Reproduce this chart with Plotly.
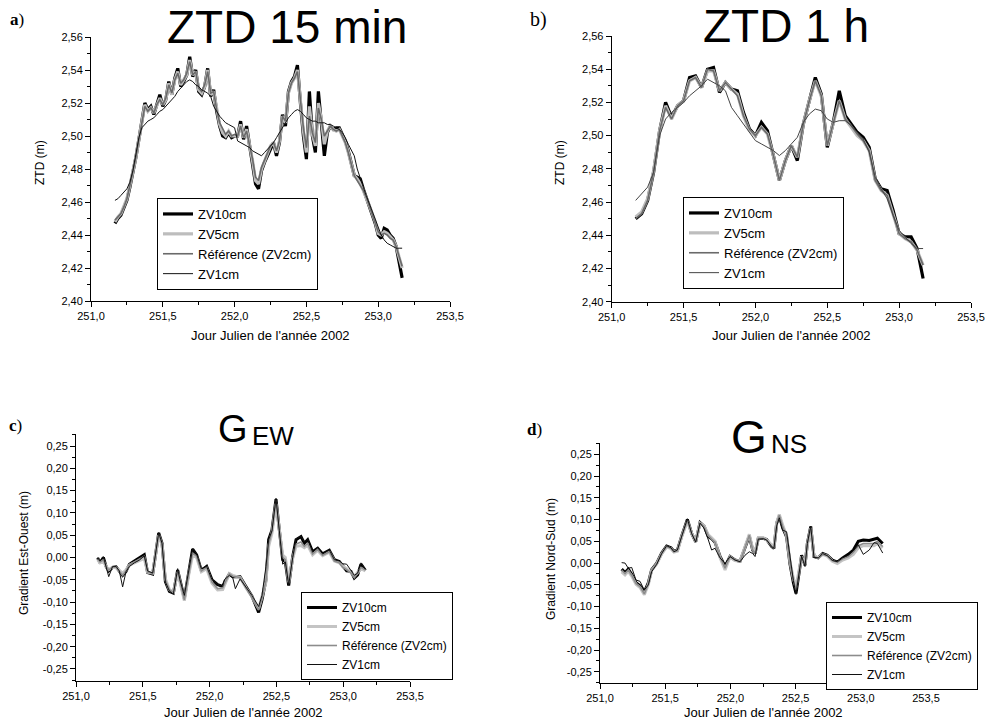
import plotly.graph_objects as go

W, H = 986, 722

# ---------------- DATA ----------------
# Panel a : ZTD 15 min (sampled every 30 min)
days_a = [round(251.1667 + k / 48, 4) for k in range(97)]
zv10_a = [2.447,2.450,2.452,2.457,2.461,2.469,2.477,2.487,2.498,2.509,2.520,2.516,2.518,2.513,2.519,2.525,2.518,2.522,2.533,2.525,
          2.535,2.541,2.530,2.533,2.537,2.548,2.536,2.540,2.527,2.525,2.530,2.541,2.524,2.528,2.515,2.506,2.500,2.499,2.502,2.499,
          2.500,2.500,2.509,2.498,2.506,2.494,2.484,2.471,2.468,2.479,2.484,2.488,2.493,2.496,2.488,2.496,2.513,2.506,2.527,2.533,
          2.536,2.543,2.520,2.500,2.486,2.527,2.500,2.490,2.527,2.509,2.488,2.502,2.506,2.504,2.505,2.505,2.501,2.497,2.491,2.484,
          2.476,2.475,2.474,2.468,2.463,2.458,2.452,2.447,2.440,2.438,2.444,2.443,2.440,2.438,2.433,2.424,2.414]
zv5_a = [2.448,2.451,2.453,2.457,2.462,2.470,2.478,2.487,2.498,2.508,2.519,2.515,2.517,2.514,2.519,2.523,2.519,2.522,2.532,2.525,
         2.534,2.539,2.531,2.534,2.537,2.546,2.537,2.539,2.528,2.526,2.530,2.540,2.525,2.527,2.516,2.507,2.502,2.500,2.503,2.500,
         2.500,2.500,2.507,2.499,2.504,2.495,2.485,2.473,2.471,2.480,2.485,2.489,2.494,2.496,2.490,2.497,2.512,2.508,2.526,2.532,
         2.535,2.540,2.521,2.503,2.490,2.518,2.501,2.494,2.520,2.510,2.495,2.503,2.506,2.504,2.503,2.504,2.500,2.496,2.490,2.483,
         2.476,2.474,2.471,2.467,2.463,2.458,2.453,2.448,2.441,2.440,2.442,2.441,2.439,2.437,2.433,2.426,2.420]
ref_a = [2.449,2.451,2.453,2.457,2.462,2.470,2.478,2.487,2.498,2.508,2.518,2.515,2.517,2.514,2.519,2.522,2.519,2.523,2.531,2.526,
         2.534,2.538,2.532,2.534,2.538,2.545,2.537,2.539,2.529,2.527,2.531,2.539,2.526,2.527,2.516,2.508,2.504,2.501,2.503,2.500,
         2.501,2.500,2.506,2.499,2.503,2.495,2.486,2.475,2.473,2.481,2.485,2.490,2.494,2.496,2.491,2.497,2.512,2.509,2.526,2.532,
         2.535,2.539,2.522,2.505,2.493,2.512,2.502,2.496,2.517,2.510,2.500,2.503,2.506,2.504,2.503,2.504,2.500,2.496,2.490,2.483,
         2.476,2.473,2.470,2.467,2.463,2.458,2.453,2.448,2.442,2.440,2.441,2.440,2.438,2.437,2.433,2.427,2.421]
zv1_a = [2.461,2.462,2.464,2.466,2.468,2.472,2.479,2.489,2.499,2.505,2.507,2.509,2.510,2.511,2.513,2.515,2.516,2.518,2.520,2.522,
         2.524,2.527,2.529,2.531,2.533,2.534,2.533,2.531,2.530,2.528,2.527,2.526,2.524,2.518,2.515,2.512,2.510,2.508,2.507,2.506,
         2.505,2.497,2.496,2.495,2.494,2.493,2.491,2.490,2.489,2.488,2.490,2.492,2.494,2.496,2.499,2.502,2.505,2.508,2.511,2.513,
         2.515,2.516,2.515,2.513,2.511,2.510,2.509,2.509,2.508,2.508,2.508,2.507,2.507,2.506,2.505,2.504,2.502,2.499,2.495,2.491,
         2.488,2.480,2.474,2.469,2.464,2.459,2.454,2.449,2.444,2.440,2.437,2.435,2.434,2.433,2.432,2.432,2.432]

# Panel b : ZTD 1 h
days_b = [round(251.1667 + k / 24, 4) for k in range(49)]
zv10_b = [2.450,2.453,2.461,2.478,2.503,2.520,2.511,2.518,2.521,2.535,2.536,2.529,2.540,2.541,2.526,2.532,2.528,2.527,2.514,2.504,
          2.500,2.508,2.503,2.488,2.473,2.485,2.494,2.485,2.507,2.521,2.535,2.525,2.493,2.508,2.527,2.512,2.507,2.502,2.499,2.493,
          2.474,2.468,2.467,2.455,2.441,2.439,2.439,2.432,2.414]
zv5_b = [2.451,2.454,2.462,2.479,2.503,2.518,2.510,2.518,2.521,2.533,2.535,2.529,2.539,2.539,2.527,2.532,2.528,2.525,2.512,2.503,
         2.500,2.505,2.501,2.488,2.473,2.485,2.494,2.487,2.507,2.521,2.533,2.524,2.494,2.507,2.521,2.510,2.505,2.500,2.497,2.491,
         2.473,2.467,2.464,2.452,2.441,2.438,2.436,2.431,2.422]
ref_b = [2.450,2.453,2.461,2.478,2.503,2.517,2.510,2.518,2.521,2.533,2.535,2.529,2.540,2.539,2.527,2.532,2.528,2.524,2.512,2.504,
         2.500,2.505,2.501,2.488,2.473,2.485,2.494,2.487,2.507,2.521,2.533,2.524,2.494,2.507,2.521,2.510,2.506,2.501,2.497,2.491,
         2.473,2.467,2.464,2.452,2.441,2.438,2.436,2.431,2.422]
zv1_b = [2.461,2.465,2.469,2.478,2.500,2.510,2.514,2.517,2.520,2.524,2.527,2.530,2.534,2.532,2.530,2.527,2.517,2.512,2.507,2.502,
         2.497,2.495,2.493,2.491,2.488,2.491,2.495,2.499,2.508,2.513,2.516,2.515,2.510,2.508,2.509,2.509,2.506,2.502,2.498,2.490,
         2.475,2.468,2.462,2.452,2.443,2.439,2.435,2.432,2.432]

# Panel c : gradient Est-Ouest
days_c = [251.162,251.180,251.205,251.225,251.245,251.274,251.300,251.324,251.349,251.374,251.400,251.437,251.474,251.511,
          251.536,251.574,251.619,251.644,251.669,251.699,251.729,251.761,251.778,251.811,251.843,251.873,251.903,251.938,
          251.978,252.018,252.060,252.098,252.110,252.148,252.173,252.193,252.228,252.272,252.317,252.367,252.392,252.422,
          252.442,252.467,252.497,252.522,252.547,252.567,252.592,252.622,252.647,252.684,252.709,252.734,252.771,252.809,
          252.846,252.896,252.934,252.971,252.996,253.026,253.058,253.083,253.108,253.133,253.166]
zv10_c = [-0.001,-0.012,0.000,-0.020,-0.030,-0.022,-0.021,-0.031,-0.040,-0.031,-0.015,-0.008,-0.001,0.006,-0.034,-0.037,0.055,
          0.032,-0.054,-0.076,-0.080,-0.028,-0.050,-0.092,-0.035,0.019,0.006,-0.029,-0.020,-0.050,-0.061,-0.065,-0.057,-0.037,
          -0.043,-0.043,-0.043,-0.065,-0.087,-0.123,-0.095,-0.050,0.040,0.062,0.131,0.062,-0.005,-0.010,-0.063,0.002,0.040,
          0.047,0.032,0.040,0.013,0.021,0.008,0.016,-0.005,-0.009,-0.019,-0.030,-0.031,-0.046,-0.039,-0.015,-0.029]
zv5_c = [-0.005,-0.012,-0.008,-0.020,-0.027,-0.022,-0.023,-0.030,-0.035,-0.028,-0.017,-0.012,-0.007,-0.002,-0.033,-0.035,0.050,
         0.028,-0.048,-0.072,-0.078,-0.033,-0.055,-0.097,-0.040,0.005,0.000,-0.032,-0.025,-0.058,-0.073,-0.072,-0.063,-0.036,
         -0.040,-0.042,-0.045,-0.068,-0.088,-0.115,-0.090,-0.055,0.025,0.055,0.120,0.058,0.005,0.000,-0.055,-0.002,0.025,
         0.027,0.022,0.028,0.006,0.016,0.004,0.012,-0.008,-0.012,-0.020,-0.025,-0.033,-0.042,-0.034,-0.025,-0.030]
ref_c = [-0.003,-0.010,-0.005,-0.020,-0.028,-0.022,-0.022,-0.030,-0.040,-0.030,-0.016,-0.010,-0.004,0.003,-0.033,-0.036,0.052,
         0.030,-0.050,-0.073,-0.078,-0.030,-0.052,-0.095,-0.038,0.010,0.003,-0.030,-0.022,-0.055,-0.070,-0.068,-0.060,-0.037,
         -0.042,-0.043,-0.045,-0.068,-0.090,-0.118,-0.092,-0.052,0.030,0.060,0.128,0.060,0.000,-0.005,-0.058,0.000,0.030,
         0.035,0.025,0.032,0.008,0.018,0.005,0.013,-0.008,-0.012,-0.022,-0.027,-0.035,-0.045,-0.035,-0.022,-0.028]
zv1_c = [0.000,-0.008,0.002,-0.022,-0.043,-0.020,-0.020,-0.030,-0.066,-0.032,-0.020,-0.012,-0.006,0.004,-0.030,-0.035,0.056,
         0.032,-0.055,-0.075,-0.082,-0.025,-0.050,-0.085,-0.030,0.020,0.008,-0.025,-0.020,-0.050,-0.060,-0.065,-0.050,-0.040,
         -0.045,-0.070,-0.048,-0.066,-0.085,-0.110,-0.085,-0.020,0.040,0.060,0.133,0.060,-0.015,-0.010,-0.062,0.000,0.042,
         0.048,0.035,0.042,0.012,0.022,0.008,0.017,-0.005,-0.008,-0.014,-0.015,-0.030,-0.040,-0.035,-0.012,-0.027]

# Panel d : gradient Nord-Sud
days_d = [251.166,251.192,251.217,251.243,251.276,251.307,251.340,251.371,251.396,251.435,251.473,251.511,251.544,251.567,
          251.593,251.626,251.670,251.703,251.734,251.767,251.798,251.831,251.856,251.882,251.920,251.959,251.997,252.035,
          252.074,252.112,252.145,252.171,252.189,252.214,252.253,252.278,252.316,252.334,252.355,252.375,252.400,252.431,
          252.457,252.483,252.503,252.529,252.546,252.572,252.590,252.616,252.641,252.674,252.708,252.743,252.782,252.820,
          252.861,252.904,252.943,252.981,253.019,253.065,253.101,253.127,253.168]
zv10_d = [-0.014,-0.022,-0.014,-0.026,-0.045,-0.052,-0.066,-0.045,-0.015,0.000,0.023,0.039,0.035,0.027,0.029,0.062,0.100,
          0.068,0.049,0.093,0.085,0.061,0.056,0.048,0.016,-0.008,0.015,0.007,0.004,0.033,0.062,0.030,0.022,0.057,0.057,0.054,
          0.038,0.034,0.092,0.108,0.082,0.060,-0.002,-0.045,-0.070,-0.018,0.018,-0.005,0.045,0.084,0.015,0.012,0.022,0.018,
          0.007,0.002,0.012,0.020,0.030,0.050,0.053,0.052,0.055,0.057,0.045]
zv5_d = [-0.020,-0.027,-0.019,-0.030,-0.049,-0.056,-0.073,-0.049,-0.017,-0.002,0.021,0.037,0.033,0.025,0.027,0.060,0.096,
         0.068,0.050,0.092,0.086,0.065,0.058,0.050,0.013,-0.016,0.014,0.006,0.004,0.036,0.066,0.032,0.024,0.058,0.058,0.053,
         0.040,0.036,0.093,0.112,0.088,0.063,0.003,-0.035,-0.055,-0.014,0.015,-0.003,0.042,0.080,0.017,0.012,0.020,0.016,
         0.004,-0.001,0.007,0.012,0.020,0.035,0.040,0.040,0.040,0.045,0.035]
ref_d = [-0.016,-0.024,-0.016,-0.028,-0.047,-0.054,-0.071,-0.047,-0.016,-0.001,0.022,0.038,0.034,0.026,0.028,0.061,0.098,
         0.068,0.049,0.092,0.084,0.063,0.055,0.048,0.015,-0.012,0.015,0.007,0.003,0.034,0.064,0.030,0.022,0.057,0.057,0.053,
         0.038,0.034,0.091,0.110,0.085,0.061,-0.001,-0.040,-0.062,-0.016,0.016,-0.005,0.043,0.082,0.015,0.011,0.020,0.017,
         0.006,0.002,0.010,0.015,0.025,0.040,0.045,0.045,0.045,0.050,0.038]
zv1_d = [0.001,0.000,-0.012,-0.010,-0.039,-0.042,-0.062,-0.050,-0.020,-0.003,0.022,0.040,0.035,0.026,0.030,0.063,0.102,
         0.068,0.048,0.092,0.080,0.053,0.030,0.034,0.012,-0.001,0.015,0.007,0.003,0.018,0.026,0.022,0.015,0.055,0.056,0.053,
         0.038,0.034,0.085,0.104,0.076,0.072,0.010,-0.040,-0.072,-0.020,0.016,-0.008,0.045,0.085,0.013,0.012,0.022,0.017,
         0.006,0.003,0.012,0.018,0.028,0.042,0.020,0.030,0.047,0.045,0.023]

series_names = ["ZV10cm", "ZV5cm", "Référence (ZV2cm)", "ZV1cm"]

x_tickvals = [251.0, 251.5, 252.0, 252.5, 253.0, 253.5]
x_ticktext = ["251,0", "251,5", "252,0", "252,5", "253,0", "253,5"]
ztd_tickvals = [2.40, 2.42, 2.44, 2.46, 2.48, 2.50, 2.52, 2.54, 2.56]
ztd_ticktext = ["2,40", "2,42", "2,44", "2,46", "2,48", "2,50", "2,52", "2,54", "2,56"]
grad_tickvals = [-0.25, -0.20, -0.15, -0.10, -0.05, 0.0, 0.05, 0.10, 0.15, 0.20, 0.25]
grad_ticktext = ["-0,25", "-0,20", "-0,15", "-0,10", "-0,05", "0,00", "0,05", "0,10", "0,15", "0,20", "0,25"]

# ---------------- LAYOUT HELPERS ----------------
FONT = "Liberation Sans, Arial, sans-serif"
SERIF = "Liberation Serif, Times New Roman, serif"


def px(x):
    return x / W


def py(y):
    return 1 - y / H


fig = go.Figure()

styles_ab = [dict(color="#000000", width=3.2), dict(color="#bdbdbd", width=3.2),
             dict(color="#6a6a6a", width=1.6), dict(color="#111111", width=1.0)]
styles_b = [dict(color="#000000", width=3.2), dict(color="#bdbdbd", width=3.2),
            dict(color="#6a6a6a", width=1.6), dict(color="#444444", width=1.0)]
styles_cd = [dict(color="#000000", width=3.0), dict(color="#c4c4c4", width=3.0),
             dict(color="#8c8c8c", width=1.6), dict(color="#111111", width=1.0)]

panels = [
    ("x", "y", "legend", days_a, [zv10_a, zv5_a, ref_a, zv1_a], styles_ab),
    ("x2", "y2", "legend2", days_b, [zv10_b, zv5_b, ref_b, zv1_b], styles_b),
    ("x3", "y3", "legend3", days_c, [zv10_c, zv5_c, ref_c, zv1_c], styles_cd),
    ("x4", "y4", "legend4", days_d, [zv10_d, zv5_d, ref_d, zv1_d], styles_cd),
]
for xa, ya, lg, days, sers, sty in panels:
    for name, vals, st in zip(series_names, sers, sty):
        fig.add_trace(go.Scatter(x=days, y=vals, mode="lines", name=name, line=st,
                                 xaxis=xa, yaxis=ya, legend=lg, hoverinfo="skip"))

axis_common = dict(showline=True, linecolor="black", linewidth=1, ticks="outside", ticklen=5,
                   tickcolor="black", tickwidth=1, showgrid=False, zeroline=False, automargin=False,
                   tickfont=dict(family=FONT, size=11, color="black"), tickmode="array")


def xaxis(x0, x1, anchor):
    return dict(axis_common, domain=[px(x0), px(x1)], range=[251.0, 253.5], anchor=anchor,
                tickvals=x_tickvals, ticktext=x_ticktext,
                minor=dict(ticks="outside", ticklen=3, tickcolor="black", dtick=0.25, tick0=251.0))


def yaxis_ztd(y0, y1, anchor):
    return dict(axis_common, domain=[py(y1), py(y0)], range=[2.40, 2.56], anchor=anchor,
                tickvals=ztd_tickvals, ticktext=ztd_ticktext,
                minor=dict(ticks="outside", ticklen=3, tickcolor="black", dtick=0.01, tick0=2.40))


def yaxis_grad(y0, y1, lo, hi, anchor):
    return dict(axis_common, domain=[py(y1), py(y0)], range=[lo, hi], anchor=anchor,
                tickvals=grad_tickvals, ticktext=grad_ticktext,
                minor=dict(ticks="outside", ticklen=3, tickcolor="black", dtick=0.025, tick0=0.0))


def legend(x, y, size, ew):
    return dict(bgcolor="white", bordercolor="black", borderwidth=1,
                font=dict(family=FONT, size=size, color="black"),
                xanchor="left", yanchor="top", tracegroupgap=0, itemwidth=30,
                entrywidth=ew, entrywidthmode="pixels",
                traceorder="normal", xref="container", yref="container",
                x=px(x), y=py(y))


fig.update_layout(
    template="none",
    width=W, height=H, margin=dict(l=0, r=0, t=0, b=0, autoexpand=False),
    paper_bgcolor="white", plot_bgcolor="white", showlegend=True,
    font=dict(family=FONT, color="black"),
    xaxis=xaxis(91, 450, "y"), yaxis=yaxis_ztd(37, 301, "x"),
    xaxis2=xaxis(611.7, 971, "y2"), yaxis2=yaxis_ztd(36, 301.7, "x2"),
    xaxis3=xaxis(76, 410, "y3"), yaxis3=yaxis_grad(434, 681, -0.277, 0.277, "x3"),
    xaxis4=xaxis(600, 926, "y4"), yaxis4=yaxis_grad(443, 682.7, -0.275, 0.276, "x4"),
    legend=legend(157, 198, 13, 130),
    legend2=legend(683, 197, 13, 130),
    legend3=legend(301, 592, 12, 118),
    legend4=legend(826, 602, 12, 118),
)


def ann(text, x, y, size, family=FONT, angle=0):
    fig.add_annotation(text=text, x=px(x), y=py(y), xref="paper", yref="paper",
                       xanchor="center", yanchor="middle", showarrow=False, textangle=angle,
                       font=dict(family=family, size=size, color="black"))


# titles
ann("ZTD 15 min", 286.5, 26.5, 46)
ann("ZTD 1 h", 786, 26, 46)
ann("G", 232.5, 428.5, 38)
ann("EW", 273, 436, 26)
ann("G", 749, 437.4, 46)
ann("NS", 789, 444, 26)

# panel letters
ann("<b>a</b>)", 17, 20, 17, SERIF)
ann("b)", 538, 20, 20, SERIF)
ann("<b>c</b>)", 15, 425, 17, SERIF)
ann("<b>d</b>)", 534.5, 429, 17, SERIF)

# axis titles
ann("ZTD (m)", 40, 163, 12, angle=-90)
ann("ZTD (m)", 560, 163, 12, angle=-90)
ann("Gradient Est-Ouest (m)", 24, 553, 12, angle=-90)
ann("Gradient Nord-Sud (m)", 551, 559, 12, angle=-90)
ann("Jour Julien de l'année 2002", 270.5, 335, 13)
ann("Jour Julien de l'année 2002", 791, 335, 13)
ann("Jour Julien de l'année 2002", 243, 712, 13)
ann("Jour Julien de l'année 2002", 763, 712, 13)

# the page body gets no default margin, so the figure fills the window exactly
fig.write_html("out.html", config={"displayModeBar": False},
               post_script="document.body.style.margin='0';")
